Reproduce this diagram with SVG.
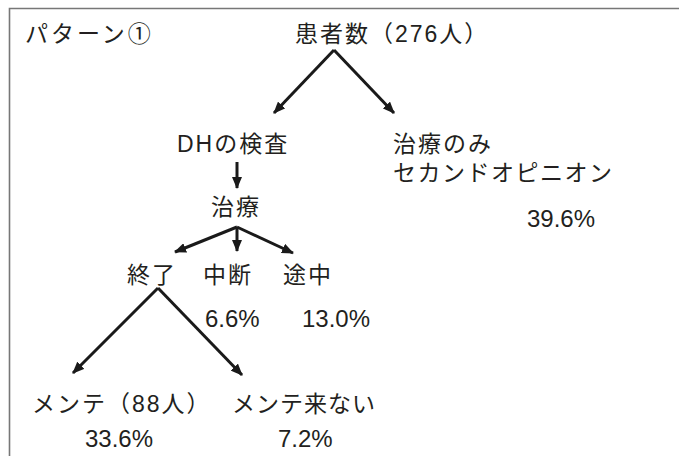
<svg xmlns="http://www.w3.org/2000/svg" width="679" height="456" viewBox="0 0 679 456">
<defs>
<marker id="ah" viewBox="0 0 12 10" refX="11" refY="5" markerWidth="12" markerHeight="10" markerUnits="userSpaceOnUse" orient="auto">
<path d="M0,0 L12,5 L0,10 z" fill="#1a1a1a"/>
</marker>
<style>
text{font-family:"Liberation Sans","Noto Sans CJK JP",sans-serif;font-size:23px;fill:#231f20;letter-spacing:2px}
text.p{font-size:24px;letter-spacing:0}
.c{stroke:#1a1a1a;stroke-width:3;fill:none;marker-end:url(#ah)}
</style>
</defs>
<rect width="679" height="456" fill="#fff"/>
<path d="M9.5,456 V8.5 H679" fill="none" stroke="#777" stroke-width="1.6"/>
<g id="title"><text x="25" y="42" style="letter-spacing:3px">パターン①</text></g>
<g id="root"><text x="295" y="42">患者数（276人）</text></g>
<g id="dh"><text x="177" y="152">DHの検査</text></g>
<g id="only"><text x="393" y="152">治療のみ</text><text x="393" y="181" style="letter-spacing:1.5px">セカンドオピニオン</text><text class="p" x="527" y="227">39.6%</text></g>
<g id="treat"><text x="211" y="215">治療</text></g>
<g id="end"><text x="127" y="283">終了</text></g>
<g id="stop"><text x="203" y="283">中断</text><text class="p" x="205" y="327">6.6%</text></g>
<g id="mid"><text x="283" y="283">途中</text><text class="p" x="302" y="327">13.0%</text></g>
<g id="mente"><text x="32" y="412">メンテ（88人）</text><text class="p" x="85" y="447">33.6%</text></g>
<g id="nomente"><text x="232" y="412" style="letter-spacing:1px">メンテ来ない</text><text class="p" x="278" y="447">7.2%</text></g>
<g id="connectors">
<path class="c" d="M334,50 L274,113"/>
<path class="c" d="M334,50 L394,113"/>
<path class="c" d="M237,162 L237,188"/>
<path class="c" d="M237,227 L175,252"/>
<path class="c" d="M237,227 L237,251"/>
<path class="c" d="M237,227 L293,253"/>
<path class="c" d="M158,288 L73,373"/>
<path class="c" d="M158,288 L242,375"/>
</g>
</svg>
